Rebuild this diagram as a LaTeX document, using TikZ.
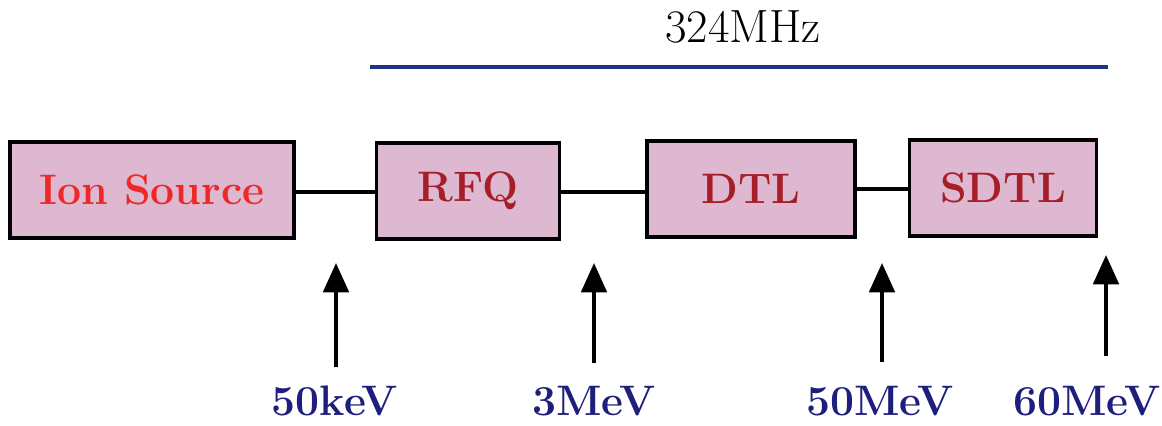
\documentclass[tikz,border=0pt]{standalone}
\usepackage{tikz}
\usetikzlibrary{arrows.meta,positioning}
\definecolor{boxfill}{RGB}{221,184,208}
\definecolor{srcred}{RGB}{236,40,40}
\definecolor{accred}{RGB}{165,30,40}
\definecolor{navy}{RGB}{30,30,125}
\definecolor{rfblue}{RGB}{30,50,135}

\begin{document}
\begin{tikzpicture}[
  x=0.75pt, y=-0.75pt,
  unit/.style={rectangle, draw, line width=2.3pt, fill=boxfill,
               minimum height=72pt, align=center, inner sep=0pt,
               font=\fontsize{32}{38}\selectfont\bfseries},
  elbl/.style={text=navy, inner sep=0pt,
               font=\fontsize{32}{38}\selectfont\bfseries},
  link/.style={line width=2.3pt},
  arr/.style={line width=3pt, -{Triangle[length=22pt, width=19pt]}}]
\useasboundingbox (0,0) rectangle (1162,425);
% accelerator sections
\node[unit, minimum width=213pt, text=srcred] (src) at (152,190) {Ion Source};
\node[unit, minimum width=137pt, text=accred] (rfq) at (468,191) {RFQ};
\node[unit, minimum width=156pt, text=accred] (dtl) at (751,189) {DTL};
\node[unit, minimum width=140pt, text=accred] (sdtl) at (1003,188) {SDTL};
\draw[link] (src.east |- 0,192) -- (rfq.west |- 0,192);
\draw[link] (rfq.east |- 0,192) -- (dtl.west |- 0,192);
\draw[link] (dtl.east |- 0,189) -- (sdtl.west |- 0,189);
% rf frequency
\node[inner sep=0pt, font=\fontsize{35}{42}\selectfont] (freq) at (743,27) {324MHz};
\coordinate (rfa) at (370,67);
\coordinate (rfb) at (1108,67);
\draw[rfblue, line width=3pt] (rfa) -- (rfb);
% beam energies
\node[elbl] (e1) at (335,401) {50keV};
\node[elbl] (e2) at (594,401) {3MeV};
\node[elbl] (e3) at (880,401) {50MeV};
\node[elbl] (e4) at (1087,401) {60MeV};
\coordinate (t1) at (336,263);
\coordinate (t2) at (594,263);
\coordinate (t3) at (882,263);
\coordinate (t4) at (1106,255);
\draw[arr] (t1 |- 0,367) -- (t1);
\draw[arr] (t2 |- 0,363) -- (t2);
\draw[arr] (t3 |- 0,362) -- (t3);
\draw[arr] (t4 |- 0,356) -- (t4);
\end{tikzpicture}
\end{document}
